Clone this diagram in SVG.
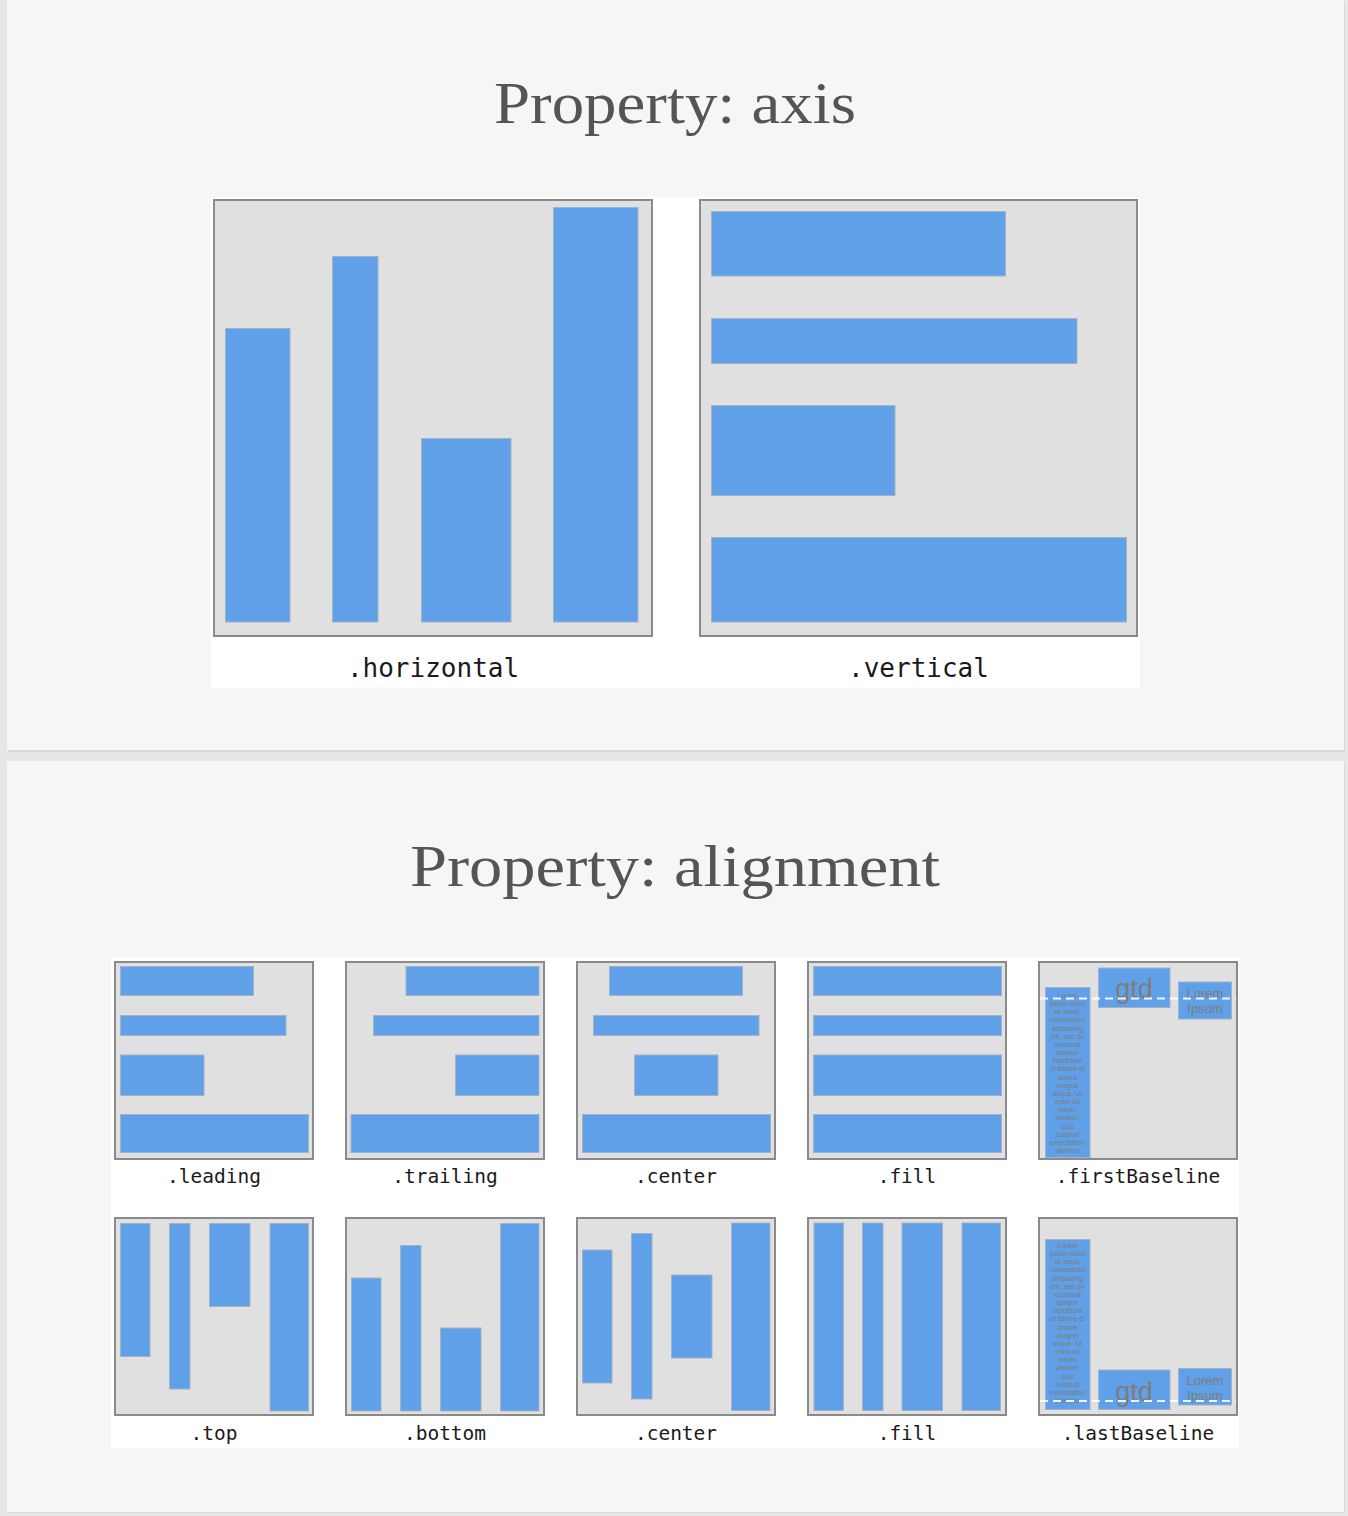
<svg xmlns="http://www.w3.org/2000/svg" width="1348" height="1516" viewBox="0 0 1348 1516">
<style>
.title{font-family:"Liberation Serif","Times New Roman",serif;font-size:60px;fill:#555;text-anchor:middle}
.lbl{font-family:"DejaVu Sans Mono",monospace;fill:#1a1a1a;text-anchor:middle}
.big{font-size:26px}
.sm{font-size:19.5px}
.box{fill:#e0e0e0;stroke:#8a8a8a;stroke-width:2}
.bar{fill:#5fa0e8;stroke:#a3b2c4;stroke-width:1}
.tx{font-family:"Liberation Sans",Arial,sans-serif;fill:#7d7d7d;text-anchor:middle}
.dash{stroke:#fff;stroke-width:2;stroke-dasharray:8 5;fill:none;opacity:0.9}
</style>
<rect x="0" y="0" width="1348" height="1516" fill="#e7e7e7"/>
<rect x="8" y="1" width="1337" height="751" fill="#dadada"/>
<rect x="7" y="0" width="1337" height="750" fill="#f6f6f6"/>
<rect x="8" y="762" width="1337" height="751" fill="#dadada"/>
<rect x="7" y="761" width="1337" height="751" fill="#f6f6f6"/>

<text class="title" x="675" y="123" textLength="362" lengthAdjust="spacingAndGlyphs">Property: axis</text>
<text class="title" x="675" y="886" textLength="530" lengthAdjust="spacingAndGlyphs">Property: alignment</text>

<rect x="211" y="197" width="929" height="491" fill="#fff"/>
<rect x="111" y="957" width="1128" height="491" fill="#fff"/>

<g id="axis-horizontal">
<rect class="box" x="214" y="200" width="438" height="436"/>
<rect class="bar" x="225.5" y="328.5" width="64.5" height="293.5"/>
<rect class="bar" x="332.5" y="256.5" width="45.5" height="365.5"/>
<rect class="bar" x="421.5" y="438.5" width="89.5" height="183.5"/>
<rect class="bar" x="553.5" y="207.5" width="84.5" height="414.5"/>
<text class="lbl big" x="433" y="677">.horizontal</text>
</g>

<g id="axis-vertical">
<rect class="box" x="700" y="200" width="437" height="436"/>
<rect class="bar" x="711.5" y="211.5" width="294" height="64.5"/>
<rect class="bar" x="711.5" y="318.5" width="365.5" height="45"/>
<rect class="bar" x="711.5" y="405.5" width="183.5" height="90"/>
<rect class="bar" x="711.5" y="537.5" width="415" height="84.5"/>
<text class="lbl big" x="918.5" y="677">.vertical</text>
</g>

<g id="align-leading">
<rect class="box" x="115" y="962" width="198" height="197"/>
<rect class="bar" x="120.5" y="966.5" width="133" height="29"/>
<rect class="bar" x="120.5" y="1015.5" width="165.5" height="20"/>
<rect class="bar" x="120.5" y="1055" width="83.5" height="40.5"/>
<rect class="bar" x="120.5" y="1114.5" width="188" height="38"/>
<text class="lbl sm" x="214" y="1183">.leading</text>
</g>

<g id="align-trailing">
<rect class="box" x="346" y="962" width="198" height="197"/>
<rect class="bar" x="406" y="966.5" width="133" height="29"/>
<rect class="bar" x="373.5" y="1015.5" width="165.5" height="20"/>
<rect class="bar" x="455.5" y="1055" width="83.5" height="40.5"/>
<rect class="bar" x="351" y="1114.5" width="188" height="38"/>
<text class="lbl sm" x="445" y="1183">.trailing</text>
</g>

<g id="align-center-h">
<rect class="box" x="577" y="962" width="198" height="197"/>
<rect class="bar" x="609.5" y="966.5" width="133" height="29"/>
<rect class="bar" x="593.5" y="1015.5" width="165.5" height="20"/>
<rect class="bar" x="634.5" y="1055" width="83.5" height="40.5"/>
<rect class="bar" x="582.5" y="1114.5" width="188" height="38"/>
<text class="lbl sm" x="676" y="1183">.center</text>
</g>

<g id="align-fill-h">
<rect class="box" x="808" y="962" width="198" height="197"/>
<rect class="bar" x="813.5" y="966.5" width="188" height="29"/>
<rect class="bar" x="813.5" y="1015.5" width="188" height="20"/>
<rect class="bar" x="813.5" y="1055" width="188" height="40.5"/>
<rect class="bar" x="813.5" y="1114.5" width="188" height="38"/>
<text class="lbl sm" x="907" y="1183">.fill</text>
</g>

<g id="align-firstBaseline">
<rect class="box" x="1039" y="962" width="198" height="197"/>
<rect class="bar" x="1045.5" y="987.5" width="44.5" height="170"/>
<text class="tx" font-size="7">
<tspan x="1067.5" y="998">Lorem</tspan><tspan x="1067.5" dy="8.16">ipsum dolor</tspan><tspan x="1067.5" dy="8.16">sit amet,</tspan><tspan x="1067.5" dy="8.16">consectetur</tspan><tspan x="1067.5" dy="8.16">adipiscing</tspan><tspan x="1067.5" dy="8.16">elit, sed do</tspan><tspan x="1067.5" dy="8.16">eiusmod</tspan><tspan x="1067.5" dy="8.16">tempor</tspan><tspan x="1067.5" dy="8.16">incididunt</tspan><tspan x="1067.5" dy="8.16">ut labore et</tspan><tspan x="1067.5" dy="8.16">dolore</tspan><tspan x="1067.5" dy="8.16">magna</tspan><tspan x="1067.5" dy="8.16">aliqua. Ut</tspan><tspan x="1067.5" dy="8.16">enim ad</tspan><tspan x="1067.5" dy="8.16">minim</tspan><tspan x="1067.5" dy="8.16">veniam,</tspan><tspan x="1067.5" dy="8.16">quis</tspan><tspan x="1067.5" dy="8.16">nostrud</tspan><tspan x="1067.5" dy="8.16">exercitation</tspan><tspan x="1067.5" dy="8.16">ullamco</tspan>
</text>
<rect class="bar" x="1098.5" y="968" width="71.5" height="39.5"/>
<text class="tx" font-size="27" x="1134" y="998">gtd</text>
<rect class="bar" x="1178.5" y="982" width="53" height="37"/>
<text class="tx" font-size="13" x="1205" y="998">Lorem</text>
<text class="tx" font-size="13" x="1205" y="1013">Ipsum</text>
<line class="dash" x1="1040" y1="998.5" x2="1236" y2="998.5"/>
<text class="lbl sm" x="1138" y="1183">.firstBaseline</text>
</g>

<g id="align-top">
<rect class="box" x="115" y="1218" width="198" height="197"/>
<rect class="bar" x="120.5" y="1223.5" width="29.5" height="133"/>
<rect class="bar" x="169.5" y="1223.5" width="20.5" height="165.5"/>
<rect class="bar" x="209.5" y="1223.5" width="40.5" height="83"/>
<rect class="bar" x="270" y="1223.5" width="38.5" height="187.5"/>
<text class="lbl sm" x="214" y="1440">.top</text>
</g>

<g id="align-bottom">
<rect class="box" x="346" y="1218" width="198" height="197"/>
<rect class="bar" x="351.5" y="1278" width="29.5" height="133"/>
<rect class="bar" x="400.5" y="1245.5" width="20.5" height="165.5"/>
<rect class="bar" x="440.5" y="1328" width="40.5" height="83"/>
<rect class="bar" x="500.5" y="1223.5" width="38.5" height="187.5"/>
<text class="lbl sm" x="445" y="1440">.bottom</text>
</g>

<g id="align-center-v">
<rect class="box" x="577" y="1218" width="198" height="197"/>
<rect class="bar" x="582.5" y="1250" width="29.5" height="133"/>
<rect class="bar" x="631.5" y="1233.5" width="20.5" height="165.5"/>
<rect class="bar" x="671.5" y="1275" width="40.5" height="83"/>
<rect class="bar" x="731.5" y="1223" width="38.5" height="187.5"/>
<text class="lbl sm" x="676" y="1440">.center</text>
</g>

<g id="align-fill-v">
<rect class="box" x="808" y="1218" width="198" height="197"/>
<rect class="bar" x="814" y="1223" width="29.5" height="187.5"/>
<rect class="bar" x="862.5" y="1223" width="20.5" height="187.5"/>
<rect class="bar" x="902" y="1223" width="40.5" height="187.5"/>
<rect class="bar" x="962" y="1223" width="38.5" height="187.5"/>
<text class="lbl sm" x="907" y="1440">.fill</text>
</g>

<g id="align-lastBaseline">
<rect class="box" x="1039" y="1218" width="198" height="197"/>
<rect class="bar" x="1045.5" y="1239.5" width="44.5" height="170"/>
<text class="tx" font-size="7">
<tspan x="1067.5" y="1248">Lorem</tspan><tspan x="1067.5" dy="8.16">ipsum dolor</tspan><tspan x="1067.5" dy="8.16">sit amet,</tspan><tspan x="1067.5" dy="8.16">consectetur</tspan><tspan x="1067.5" dy="8.16">adipiscing</tspan><tspan x="1067.5" dy="8.16">elit, sed do</tspan><tspan x="1067.5" dy="8.16">eiusmod</tspan><tspan x="1067.5" dy="8.16">tempor</tspan><tspan x="1067.5" dy="8.16">incididunt</tspan><tspan x="1067.5" dy="8.16">ut labore et</tspan><tspan x="1067.5" dy="8.16">dolore</tspan><tspan x="1067.5" dy="8.16">magna</tspan><tspan x="1067.5" dy="8.16">aliqua. Ut</tspan><tspan x="1067.5" dy="8.16">enim ad</tspan><tspan x="1067.5" dy="8.16">minim</tspan><tspan x="1067.5" dy="8.16">veniam,</tspan><tspan x="1067.5" dy="8.16">quis</tspan><tspan x="1067.5" dy="8.16">nostrud</tspan><tspan x="1067.5" dy="8.16">exercitation</tspan><tspan x="1067.5" dy="8.16">ullamco</tspan>
</text>
<rect class="bar" x="1098.5" y="1370" width="71.5" height="39.5"/>
<text class="tx" font-size="27" x="1134" y="1401">gtd</text>
<rect class="bar" x="1178.5" y="1368.5" width="53" height="36.5"/>
<text class="tx" font-size="13" x="1205" y="1385">Lorem</text>
<text class="tx" font-size="13" x="1205" y="1400">Ipsum</text>
<line class="dash" x1="1040" y1="1401" x2="1236" y2="1401"/>
<text class="lbl sm" x="1138" y="1440">.lastBaseline</text>
</g>
</svg>
